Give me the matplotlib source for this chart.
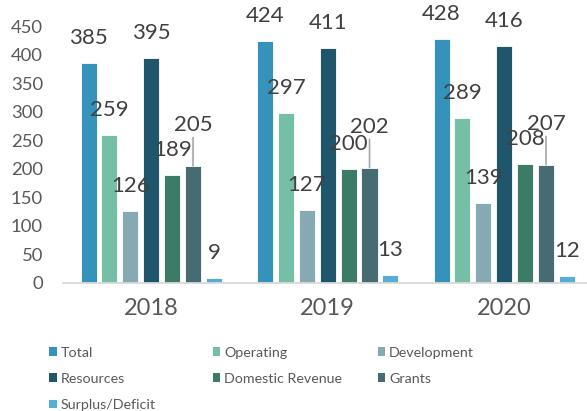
import numpy as np
import matplotlib.pyplot as plt
from matplotlib.patches import Patch

plt.rcParams['font.family'] = ['Lato', 'DejaVu Sans']

years = ['2018', '2019', '2020']
series = ['Total', 'Operating', 'Development', 'Resources',
          'Domestic Revenue', 'Grants', 'Surplus/Deficit']
total = [385, 424, 428]
operating = [259, 297, 289]
development = [126, 127, 139]
resources = [395, 411, 416]
domestic_revenue = [189, 200, 208]
grants = [205, 202, 207]
surplus_deficit = [9, 13, 12]
values = [total, operating, development, resources,
          domestic_revenue, grants, surplus_deficit]

colors = ['#3593bb', '#74bfa6', '#86aab4', '#1f566c',
          '#3b7b67', '#466b73', '#55aed3']

fig = plt.figure(figsize=(5.87, 4.11), dpi=100)
ax = fig.add_axes([63 / 587, 1 - 282.7 / 411, 1 - 63 / 587, 256.5 / 411])

x = np.arange(len(years))
pitch = 0.1184
width = 0.091
label_color = '#404040'

for i, (name, vals) in enumerate(zip(series, values)):
    bars = ax.bar(x + (i - 3) * pitch, vals, width, color=colors[i],
                  edgecolor='white', linewidth=0.6, label=name)
    for b, v in zip(bars, vals):
        cx = b.get_x() + b.get_width() / 2
        if name == 'Grants':
            # label pushed up with a leader line, like the original
            ax.annotate(str(v), (cx, v), xytext=(0, 29.5), textcoords='offset points',
                        ha='center', va='center', fontsize=16, color=label_color,
                        annotation_clip=False,
                        arrowprops=dict(arrowstyle='-', color='#a6a6a6', lw=1.2,
                                        shrinkA=0, shrinkB=0))
        else:
            ax.annotate(str(v), (cx, v), xytext=(0, 18), textcoords='offset points',
                        ha='center', va='center', fontsize=16, color=label_color,
                        annotation_clip=False)

ax.set_xlim(-0.5, 2.469)
ax.set_ylim(0, 450)
ax.set_yticks(np.arange(0, 451, 50))
ax.set_xticks(x)
ax.set_xticklabels(years)
for s in ['top', 'right', 'left']:
    ax.spines[s].set_visible(False)
ax.spines['bottom'].set_color('#d9d9d9')
ax.spines['bottom'].set_linewidth(1.3)
ax.tick_params(axis='y', length=0, pad=14.5, labelsize=13.3, labelcolor='#595959')
ax.tick_params(axis='x', length=0, pad=11, labelsize=17, labelcolor='#595959')

# legend laid out row by row in three fixed columns
handles = [Patch(facecolor=c, label=n) for c, n in zip(colors, series)]
columns = [[0, 3, 6], [1, 4], [2, 5]]
col_x = [49.3, 212.7, 377.7]
for cols, cxp in zip(columns, col_x):
    fig.legend(handles=[handles[k] for k in cols], loc='upper left',
               bbox_to_anchor=(cxp / 587, 1 - 346.5 / 411), frameon=False,
               borderpad=0, borderaxespad=0, handlelength=0.54, handleheight=0.54,
               handletextpad=0.26, labelspacing=1.0, fontsize=10.3,
               labelcolor='#595959')

fig.savefig('out.png', dpi=100)
